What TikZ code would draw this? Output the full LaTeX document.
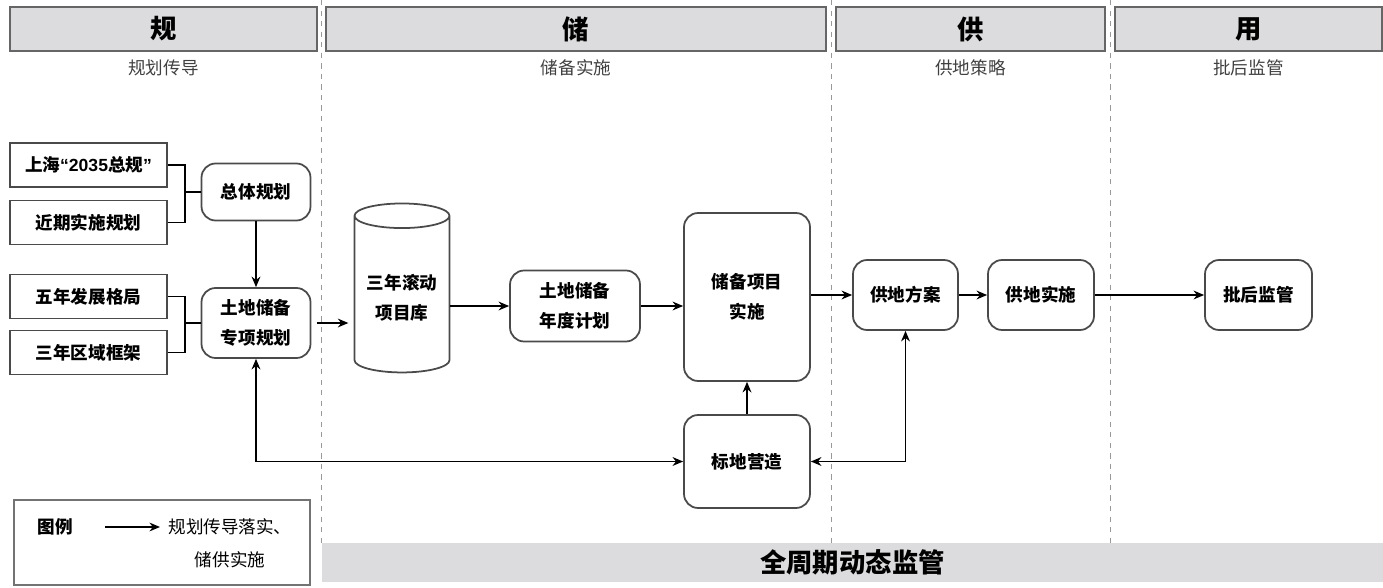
\documentclass[tikz,border=0pt]{standalone}
\usepackage{fontspec}
\setmainfont{Noto Sans CJK SC}
\newfontfamily\latinfont{Liberation Sans}
\usepackage{xcolor}
\usetikzlibrary{positioning,arrows.meta,shapes.geometric}
\definecolor{hdrgray}{HTML}{DCDCDE}
\definecolor{edgegray}{HTML}{4A4A4A}

\begin{document}
\begin{tikzpicture}[x=0.02cm, y=-0.02cm, >={Stealth[length=6pt,width=5pt]}, line width=0.9pt,
	src/.style={draw=edgegray, line width=1pt, minimum width=3.14cm, minimum height=0.88cm, inner sep=1pt, font=\bfseries\fontsize{10}{12}\selectfont},
	rbox/.style={draw=edgegray, line width=1pt, rounded corners=8pt, align=center, font=\bfseries\fontsize{10}{17}\selectfont},
	hdr/.style={draw=black!60, line width=1pt, fill=hdrgray, minimum height=0.88cm, font=\bfseries\fontsize{15}{18}\selectfont},
	sub/.style={text=black!75, font=\fontsize{10}{12}\selectfont}]
		\useasboundingbox (0,0) rectangle (1383,588);

		% stages
		\foreach \cx/\w/\t/\s [count=\i] in {163.5/6.14/规/规划传导, 576/10/储/储备实施, 970.5/5.38/供/供地策略, 1248.5/5.34/用/批后监管} {
			\node[hdr, minimum width=\w cm] (hdr\i) at (\cx,29) {\t};
			\node[sub] (sub\i) at (\cx,68) {\s};
		}
		\foreach \x in {321,831,1110}
			\draw[dashed, black!40, line width=0.5pt] (\x,0) -- (\x,543);

		% planning inputs
		\node[src] (sh) at (88.5,165) {上海{\latinfont\bfseries “2035}总规{\latinfont\bfseries ”}};
		\node[src] (jq) at (88.5,222.5) {近期实施规划};
		\node[src] (wn) at (88.5,296.5) {五年发展格局};
		\node[src] (sn) at (88.5,352.5) {三年区域框架};
		\node[rbox, minimum width=2.18cm, minimum height=1.14cm] (ztgh) at (256,192) {总体规划};
		\node[rbox, minimum width=2.18cm, minimum height=1.4cm] (zxgh) at (256,323) {土地储备\\专项规划};
		\coordinate (b1) at (185,192);
		\coordinate (b2) at (185,323);

		% reserve
		\node[draw=edgegray, line width=1pt, cylinder, shape border rotate=90, aspect=0.3, minimum width=1.9cm, minimum height=3.38cm, align=center, font=\bfseries\fontsize{10}{17}\selectfont] (ku) at (402,297.5) {三年滚动\\项目库};
		\node[rbox, minimum width=2.6cm, minimum height=1.42cm] (ndjh) at (575,306) {土地储备\\年度计划};
		\node[rbox, minimum width=2.52cm, minimum height=3.36cm] (xmss) at (747,297) {储备项目\\实施};
		\node[rbox, minimum width=2.52cm, minimum height=1.86cm] (bdyz) at (747,461.5) {标地营造};

		% supply and use
		\node[rbox, minimum width=2.1cm, minimum height=1.4cm] (gdfa) at (905.5,295) {供地方案};
		\node[rbox, minimum width=2.12cm, minimum height=1.4cm] (gdss) at (1041,295) {供地实施};
		\node[rbox, minimum width=2.14cm, minimum height=1.4cm] (phjg) at (1258.5,295) {批后监管};

		\draw (sh.east) -| (b1) |- (jq.east);
		\draw (b1) -- (ztgh.west);
		\draw (wn.east) -| (b2) |- (sn.east);
		\draw (b2) -- (zxgh.west);

		\path[->]
		(ztgh) edge (zxgh)
		(zxgh.east) edge [shorten <=3pt, shorten >=3pt] (zxgh.east -| ku.west)
		(ndjh.west -| ku.east) edge (ndjh.west)
		(ndjh.east) edge (ndjh.east -| xmss.west)
		(bdyz) edge (xmss)
		(xmss.east |- gdfa.west) edge (gdfa.west)
		(gdfa) edge (gdss)
		(gdss) edge (phjg);
		\draw[<->] (zxgh.south) |- (bdyz.west);
		\draw[<->] (bdyz.east) -| (gdfa.south);

		% legend and banner
		\node[draw=black!55, line width=0.8pt, minimum width=5.92cm, minimum height=1.7cm] (tl) at (162,542.5) {};
		\node[font=\bfseries\fontsize{10}{12}\selectfont] (tlt) at (55,527) {图例};
		\coordinate (la) at (105,527);
		\coordinate (lb) at (160,527);
		\draw[->] (la) -- (lb);
		\node[align=center, font=\fontsize{10}{18.7}\selectfont] (tlx) at (230,543.5) {规划传导落实、\\储供实施};
		\node[fill=hdrgray, minimum width=21.22cm, minimum height=0.78cm, font=\bfseries\fontsize{15}{18}\selectfont] (jg) at (852.5,562.5) {全周期动态监管};
	\end{tikzpicture}
\end{document}
